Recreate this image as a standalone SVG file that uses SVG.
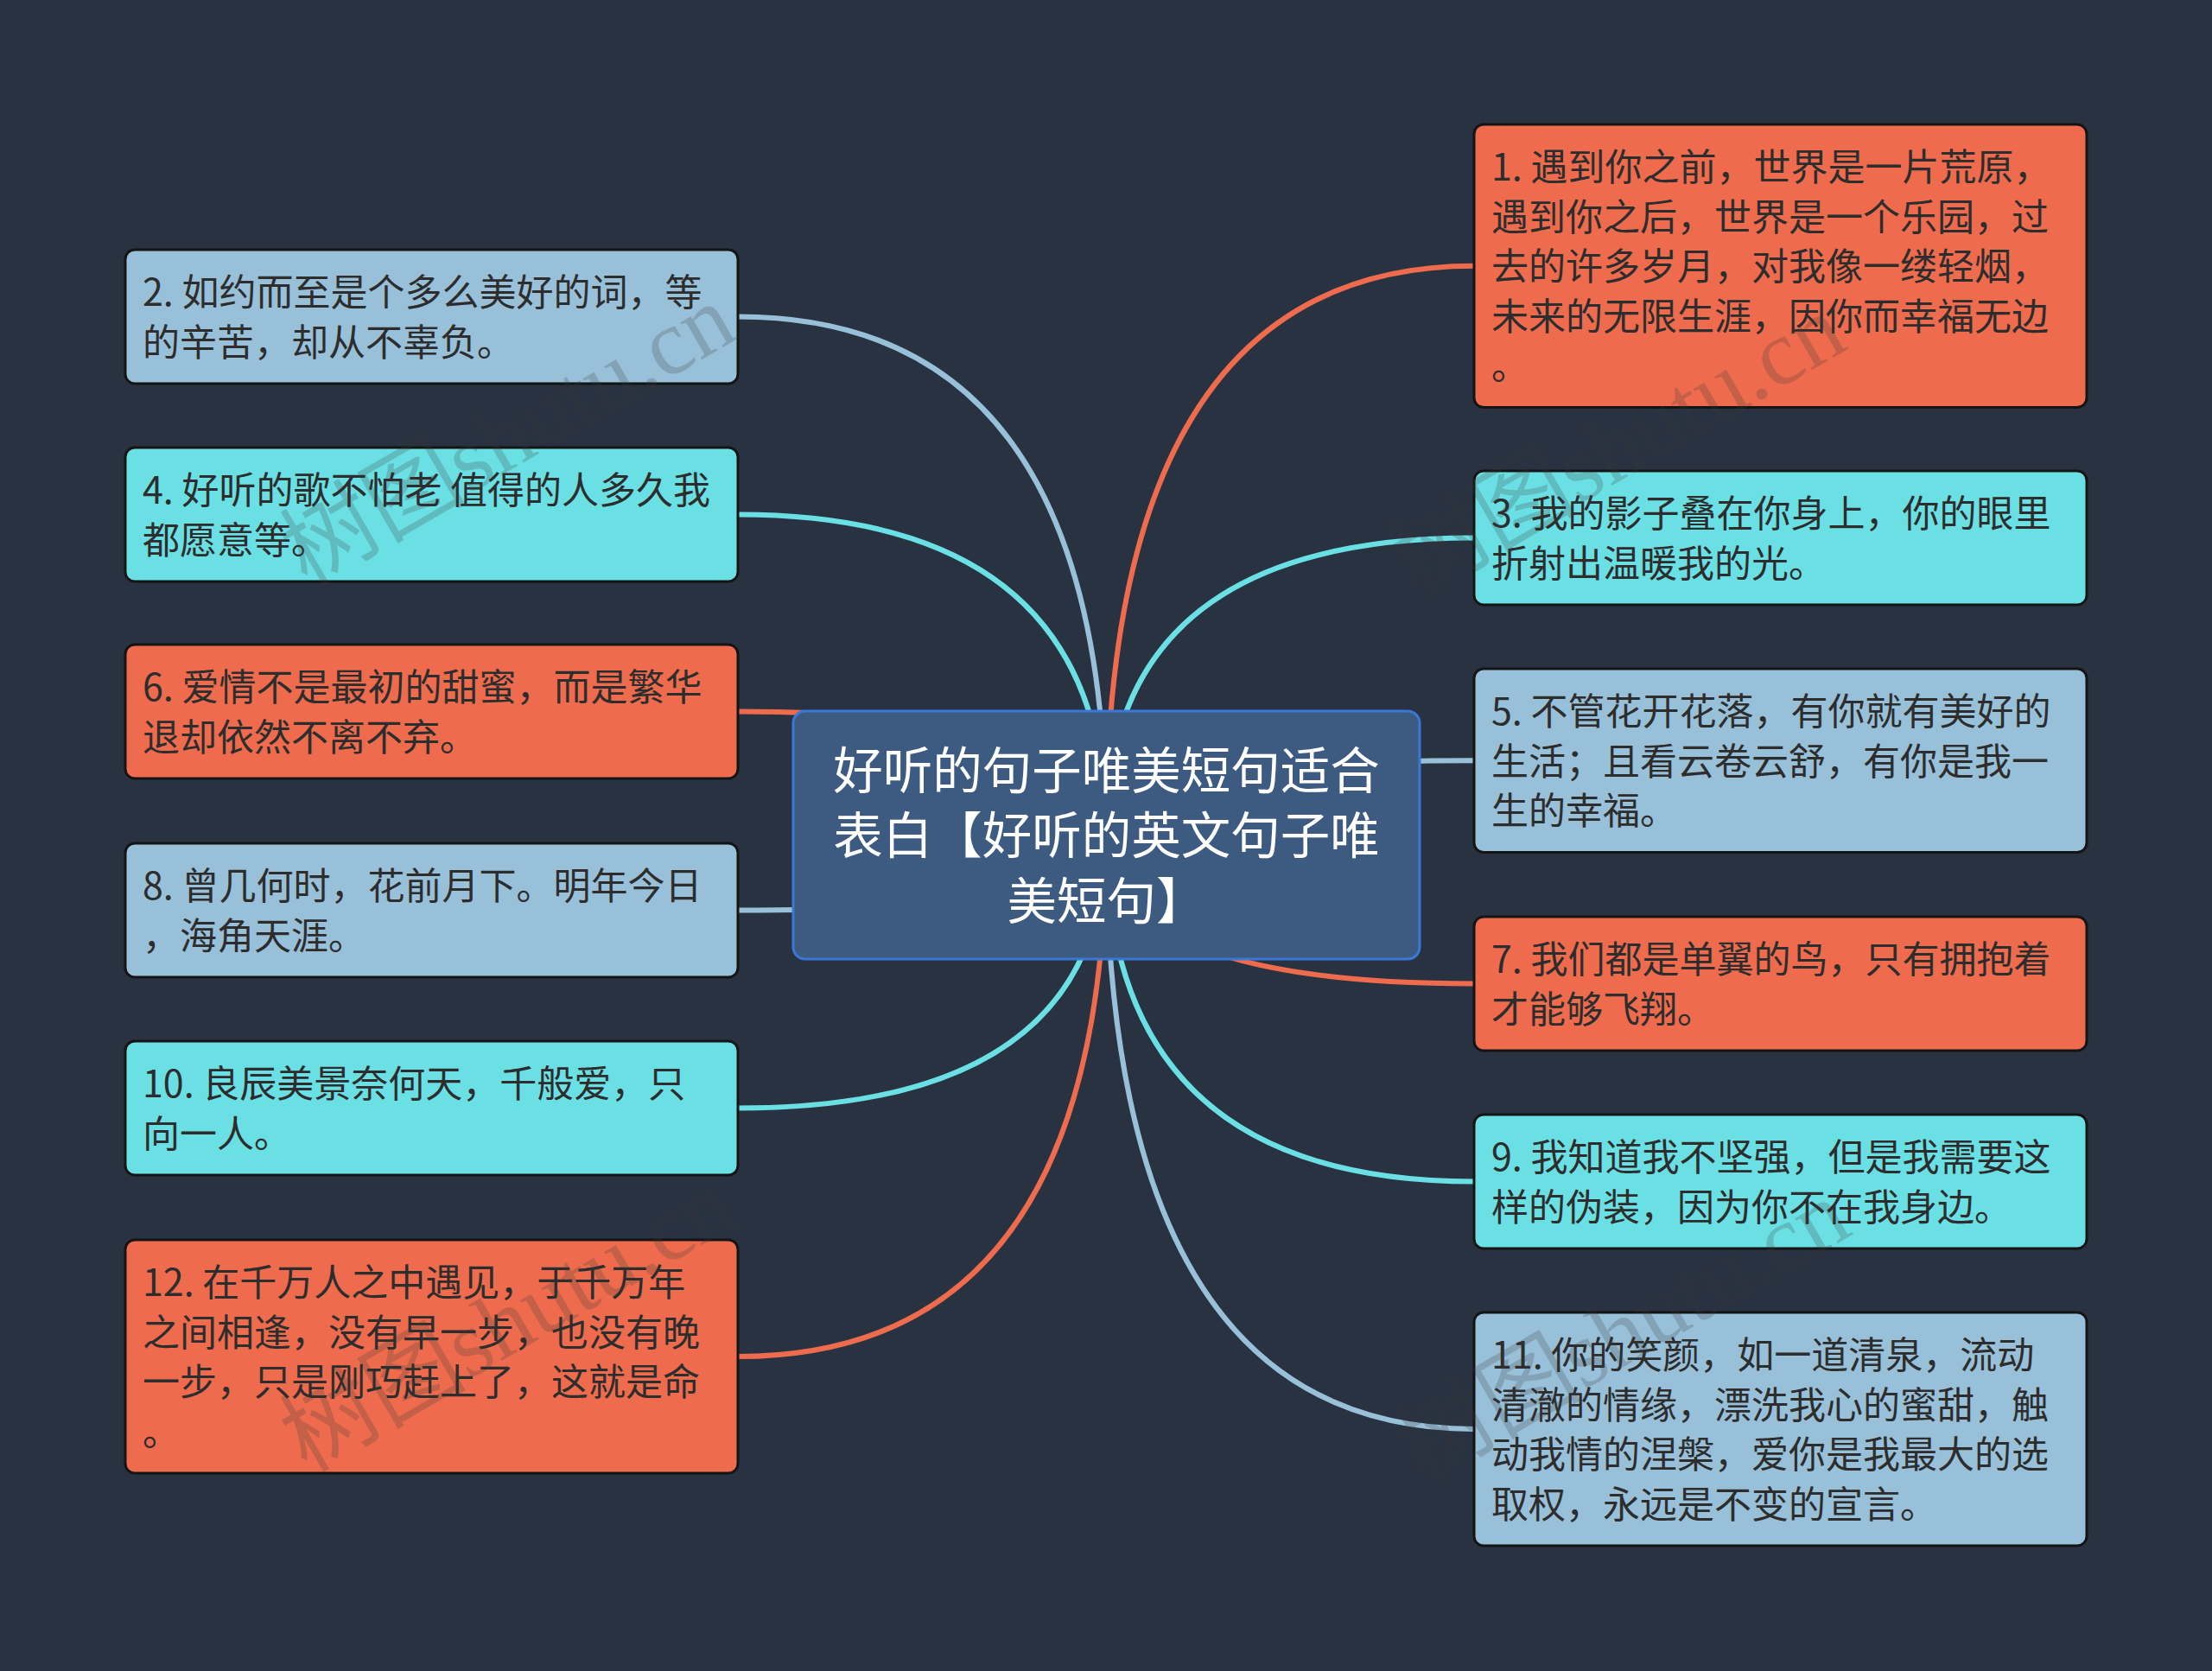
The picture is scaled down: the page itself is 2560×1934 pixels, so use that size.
<svg xmlns="http://www.w3.org/2000/svg" width="2560" height="1934" viewBox="0 0 2560 1934">
<style>
.bg{fill:#293241}
.n{stroke:#141414;stroke-width:3}
.or{fill:#ee6c4d}
.lb{fill:#98c1d9}
.cy{fill:#6be0e4}
.t{font-family:"Noto Sans CJK SC","Noto Sans",sans-serif;font-size:43px;fill:#2d2d2d}
.ct{font-family:"Noto Sans CJK SC","Noto Sans",sans-serif;font-size:57.5px;fill:#ffffff;text-anchor:middle}
.c{fill:none;stroke-width:6;stroke-linecap:round}
.cor{stroke:#ee6c4d}
.clb{stroke:#98c1d9}
.ccy{stroke:#6be0e4}
.wm{font-family:"Liberation Serif","Noto Sans CJK SC",serif;font-size:108px;fill:#3a3a3a;opacity:0.22}
</style>
<rect class="bg" x="0" y="0" width="2560" height="1934"/>
<g id="connectors">
<path class="c clb" d="M1280,966 Q1280,366.5 854,366.5"/>
<path class="c ccy" d="M1280,966 Q1280,595.5 854,595.5"/>
<path class="c cor" d="M1280,966 Q1280,823.5 854,823.5"/>
<path class="c clb" d="M1280,966 Q1280,1053.5 854,1053.5"/>
<path class="c ccy" d="M1280,966 Q1280,1282.5 854,1282.5"/>
<path class="c cor" d="M1280,966 Q1280,1570 854,1570"/>
<path class="c cor" d="M1280,966 Q1280,307.75 1706,307.75"/>
<path class="c ccy" d="M1280,966 Q1280,622.5 1706,622.5"/>
<path class="c clb" d="M1280,966 Q1280,880.25 1706,880.25"/>
<path class="c cor" d="M1280,966 Q1280,1138.5 1706,1138.5"/>
<path class="c ccy" d="M1280,966 Q1280,1367.5 1706,1367.5"/>
<path class="c clb" d="M1280,966 Q1280,1654 1706,1654"/>
</g>
<g id="center">
<rect x="918" y="823" width="725" height="287" rx="14" fill="#3d5a80" stroke="#3a78d8" stroke-width="3"/>
<text class="ct" x="1280.5" y="912.5">好听的句子唯美短句适合</text>
<text class="ct" x="1280.5" y="988">表白【好听的英文句子唯</text>
<text class="ct" x="1280.5" y="1063.5">美短句】</text>
</g>
<g id="node2">
<rect class="n lb" x="145" y="289" width="709" height="155" rx="11"/>
<text class="t" x="165" y="354">2. 如约而至是个多么美好的词，等</text>
<text class="t" x="165" y="411.5">的辛苦，却从不辜负。</text>
</g>
<g id="node4">
<rect class="n cy" x="145" y="518" width="709" height="155" rx="11"/>
<text class="t" x="165" y="583">4. 好听的歌不怕老 值得的人多久我</text>
<text class="t" x="165" y="640.5">都愿意等。</text>
</g>
<g id="node6">
<rect class="n or" x="145" y="746" width="709" height="155" rx="11"/>
<text class="t" x="165" y="811">6. 爱情不是最初的甜蜜，而是繁华</text>
<text class="t" x="165" y="868.5">退却依然不离不弃。</text>
</g>
<g id="node8">
<rect class="n lb" x="145" y="976" width="709" height="155" rx="11"/>
<text class="t" x="165" y="1041">8. 曾几何时，花前月下。明年今日</text>
<text class="t" x="165" y="1098.5">，海角天涯。</text>
</g>
<g id="node10">
<rect class="n cy" x="145" y="1205" width="709" height="155" rx="11"/>
<text class="t" x="165" y="1270">10. 良辰美景奈何天，千般爱，只</text>
<text class="t" x="165" y="1327.5">向一人。</text>
</g>
<g id="node12">
<rect class="n or" x="145" y="1435" width="709" height="270" rx="11"/>
<text class="t" x="165" y="1500">12. 在千万人之中遇见，于千万年</text>
<text class="t" x="165" y="1557.5">之间相逢，没有早一步，也没有晚</text>
<text class="t" x="165" y="1615">一步，只是刚巧赶上了，这就是命</text>
<text class="t" x="165" y="1672.5">。</text>
</g>
<g id="node1">
<rect class="n or" x="1706" y="144" width="709" height="327.5" rx="11"/>
<text class="t" x="1726" y="209">1. 遇到你之前，世界是一片荒原，</text>
<text class="t" x="1726" y="266.5">遇到你之后，世界是一个乐园，过</text>
<text class="t" x="1726" y="324">去的许多岁月，对我像一缕轻烟，</text>
<text class="t" x="1726" y="381.5">未来的无限生涯，因你而幸福无边</text>
<text class="t" x="1726" y="439">。</text>
</g>
<g id="node3">
<rect class="n cy" x="1706" y="545" width="709" height="155" rx="11"/>
<text class="t" x="1726" y="610">3. 我的影子叠在你身上，你的眼里</text>
<text class="t" x="1726" y="667.5">折射出温暖我的光。</text>
</g>
<g id="node5">
<rect class="n lb" x="1706" y="774" width="709" height="212.5" rx="11"/>
<text class="t" x="1726" y="839">5. 不管花开花落，有你就有美好的</text>
<text class="t" x="1726" y="896.5">生活；且看云卷云舒，有你是我一</text>
<text class="t" x="1726" y="954">生的幸福。</text>
</g>
<g id="node7">
<rect class="n or" x="1706" y="1061" width="709" height="155" rx="11"/>
<text class="t" x="1726" y="1126">7. 我们都是单翼的鸟，只有拥抱着</text>
<text class="t" x="1726" y="1183.5">才能够飞翔。</text>
</g>
<g id="node9">
<rect class="n cy" x="1706" y="1290" width="709" height="155" rx="11"/>
<text class="t" x="1726" y="1355">9. 我知道我不坚强，但是我需要这</text>
<text class="t" x="1726" y="1412.5">样的伪装，因为你不在我身边。</text>
</g>
<g id="node11">
<rect class="n lb" x="1706" y="1519" width="709" height="270" rx="11"/>
<text class="t" x="1726" y="1584">11. 你的笑颜，如一道清泉，流动</text>
<text class="t" x="1726" y="1641.5">清澈的情缘，漂洗我心的蜜甜，触</text>
<text class="t" x="1726" y="1699">动我情的涅槃，爱你是我最大的选</text>
<text class="t" x="1726" y="1756.5">取权，永远是不变的宣言。</text>
</g>
<g id="watermarks">
<text class="wm" transform="translate(355,680) rotate(-30)">树图shutu.cn</text>
<text class="wm" transform="translate(1640,692) rotate(-30)">树图shutu.cn</text>
<text class="wm" transform="translate(355,1705) rotate(-30)">树图shutu.cn</text>
<text class="wm" transform="translate(1645,1717) rotate(-30)">树图shutu.cn</text>
</g>
</svg>
